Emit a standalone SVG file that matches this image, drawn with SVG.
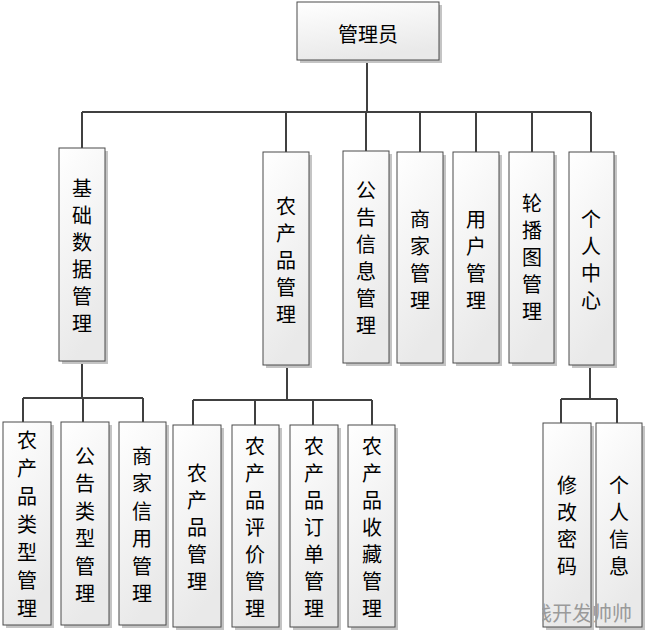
<svg xmlns="http://www.w3.org/2000/svg" width="648" height="633" viewBox="0 0 648 633">
<defs>
<linearGradient id="g" x1="0" y1="0" x2="0.3" y2="1">
<stop offset="0" stop-color="#ffffff"/>
<stop offset="1" stop-color="#e9e9e9"/>
</linearGradient>
<clipPath id="wm"><rect x="542" y="590" width="106" height="43"/></clipPath>
</defs>
<style>
.sh{fill:#c4c4c4}
.bx{fill:url(#g);stroke:#4a4a4a;stroke-width:1}
.t{font-family:"Noto Sans CJK SC","Noto Sans CJK JP",sans-serif;font-size:20px;fill:#000;text-anchor:middle;dominant-baseline:central}
.c{fill:none;stroke:#404040;stroke-width:2}
.w{font-family:"Noto Sans CJK SC",sans-serif;font-size:20px;fill:#9a9a9a}
</style>
<rect width="648" height="633" fill="#fff"/>
<g id="connectors">
<path class="c" d="M367 60V112M82 112H591M82 112V148M286 112V152M366 112V151M420 112V152M476 112V152M532 112V152M591 112V152"/>
<path class="c" d="M82 361V398M23 398H143M23 398V422M83 398V422M143 398V422"/>
<path class="c" d="M287 365V400M193 400H372M193 400V425M255 400V425M313 400V425M372 400V425"/>
<path class="c" d="M590 365V399M561 399H617M561 399V423M617 399V423"/>
</g>
<g id="n_root"><rect class="sh" x="300" y="5" width="142" height="58"/><rect class="bx" x="297" y="2" width="142" height="58"/><text class="t" x="368" y="33">管理员</text></g>
<g id="n_jichu"><rect class="sh" x="62" y="151" width="46" height="213"/><rect class="bx" x="59" y="148" width="46" height="213"/>
<text class="t" x="82" y="187"><tspan x="82" y="187">基</tspan><tspan x="82" y="214">础</tspan><tspan x="82" y="241">数</tspan><tspan x="82" y="268">据</tspan><tspan x="82" y="295">管</tspan><tspan x="82" y="322">理</tspan></text></g>
<g id="n_ncp"><rect class="sh" x="266" y="155" width="46" height="213"/><rect class="bx" x="263" y="152" width="46" height="213"/>
<text class="t"><tspan x="286" y="205">农</tspan><tspan x="286" y="232">产</tspan><tspan x="286" y="259">品</tspan><tspan x="286" y="286">管</tspan><tspan x="286" y="313">理</tspan></text></g>
<g id="n_gonggao"><rect class="sh" x="346" y="154" width="46" height="212"/><rect class="bx" x="343" y="151" width="46" height="212"/>
<text class="t"><tspan x="366" y="189">公</tspan><tspan x="366" y="216">告</tspan><tspan x="366" y="243">信</tspan><tspan x="366" y="270">息</tspan><tspan x="366" y="297">管</tspan><tspan x="366" y="324">理</tspan></text></g>
<g id="n_shangjia"><rect class="sh" x="400" y="155" width="46" height="211"/><rect class="bx" x="397" y="152" width="46" height="211"/>
<text class="t"><tspan x="420" y="218">商</tspan><tspan x="420" y="245">家</tspan><tspan x="420" y="272">管</tspan><tspan x="420" y="299">理</tspan></text></g>
<g id="n_yonghu"><rect class="sh" x="456" y="155" width="46" height="211"/><rect class="bx" x="453" y="152" width="46" height="211"/>
<text class="t"><tspan x="476" y="218">用</tspan><tspan x="476" y="245">户</tspan><tspan x="476" y="272">管</tspan><tspan x="476" y="299">理</tspan></text></g>
<g id="n_lunbo"><rect class="sh" x="512" y="155" width="45" height="211"/><rect class="bx" x="509" y="152" width="45" height="211"/>
<text class="t"><tspan x="532" y="202">轮</tspan><tspan x="532" y="229">播</tspan><tspan x="532" y="256">图</tspan><tspan x="532" y="283">管</tspan><tspan x="532" y="310">理</tspan></text></g>
<g id="n_geren"><rect class="sh" x="572" y="155" width="45" height="213"/><rect class="bx" x="569" y="152" width="45" height="213"/>
<text class="t"><tspan x="591" y="218">个</tspan><tspan x="591" y="245">人</tspan><tspan x="591" y="272">中</tspan><tspan x="591" y="299">心</tspan></text></g>
<g id="n_leixing"><rect class="sh" x="6" y="425" width="48" height="203"/><rect class="bx" x="3" y="422" width="48" height="203"/>
<text class="t"><tspan x="27" y="439">农</tspan><tspan x="27" y="467">产</tspan><tspan x="27" y="495">品</tspan><tspan x="27" y="523">类</tspan><tspan x="27" y="551">型</tspan><tspan x="27" y="579">管</tspan><tspan x="27" y="607">理</tspan></text></g>
<g id="n_gglx"><rect class="sh" x="64" y="425" width="48" height="203"/><rect class="bx" x="61" y="422" width="48" height="203"/>
<text class="t"><tspan x="85" y="455">公</tspan><tspan x="85" y="482">告</tspan><tspan x="85" y="510">类</tspan><tspan x="85" y="537">型</tspan><tspan x="85" y="565">管</tspan><tspan x="85" y="592">理</tspan></text></g>
<g id="n_xinyong"><rect class="sh" x="122" y="425" width="47" height="203"/><rect class="bx" x="119" y="422" width="47" height="203"/>
<text class="t"><tspan x="142" y="455">商</tspan><tspan x="142" y="482">家</tspan><tspan x="142" y="510">信</tspan><tspan x="142" y="537">用</tspan><tspan x="142" y="565">管</tspan><tspan x="142" y="592">理</tspan></text></g>
<g id="n_ncpgl"><rect class="sh" x="176" y="428" width="48" height="202"/><rect class="bx" x="173" y="425" width="48" height="202"/>
<text class="t"><tspan x="197" y="472">农</tspan><tspan x="197" y="499">产</tspan><tspan x="197" y="526">品</tspan><tspan x="197" y="553">管</tspan><tspan x="197" y="580">理</tspan></text></g>
<g id="n_pingjia"><rect class="sh" x="235" y="428" width="47" height="202"/><rect class="bx" x="232" y="425" width="47" height="202"/>
<text class="t"><tspan x="255" y="445">农</tspan><tspan x="255" y="472">产</tspan><tspan x="255" y="499">品</tspan><tspan x="255" y="526">评</tspan><tspan x="255" y="553">价</tspan><tspan x="255" y="580">管</tspan><tspan x="255" y="607">理</tspan></text></g>
<g id="n_dingdan"><rect class="sh" x="293" y="428" width="48" height="202"/><rect class="bx" x="290" y="425" width="48" height="202"/>
<text class="t"><tspan x="314" y="445">农</tspan><tspan x="314" y="472">产</tspan><tspan x="314" y="499">品</tspan><tspan x="314" y="526">订</tspan><tspan x="314" y="553">单</tspan><tspan x="314" y="580">管</tspan><tspan x="314" y="607">理</tspan></text></g>
<g id="n_shoucang"><rect class="sh" x="351" y="428" width="47" height="202"/><rect class="bx" x="348" y="425" width="47" height="202"/>
<text class="t"><tspan x="372" y="445">农</tspan><tspan x="372" y="472">产</tspan><tspan x="372" y="499">品</tspan><tspan x="372" y="526">收</tspan><tspan x="372" y="553">藏</tspan><tspan x="372" y="580">管</tspan><tspan x="372" y="607">理</tspan></text></g>
<g id="n_mima"><rect class="sh" x="546" y="426" width="48" height="204"/><rect class="bx" x="543" y="423" width="48" height="204"/>
<text class="t"><tspan x="567" y="484">修</tspan><tspan x="567" y="511">改</tspan><tspan x="567" y="538">密</tspan><tspan x="567" y="565">码</tspan></text></g>
<g id="n_xinxi"><rect class="sh" x="599" y="426" width="46" height="204"/><rect class="bx" x="596" y="423" width="46" height="204"/>
<text class="t"><tspan x="619" y="484">个</tspan><tspan x="619" y="511">人</tspan><tspan x="619" y="538">信</tspan><tspan x="619" y="565">息</tspan></text></g>
<g id="watermark" clip-path="url(#wm)"><text class="w" x="532" y="621">栈开发帅帅</text></g>
</svg>
